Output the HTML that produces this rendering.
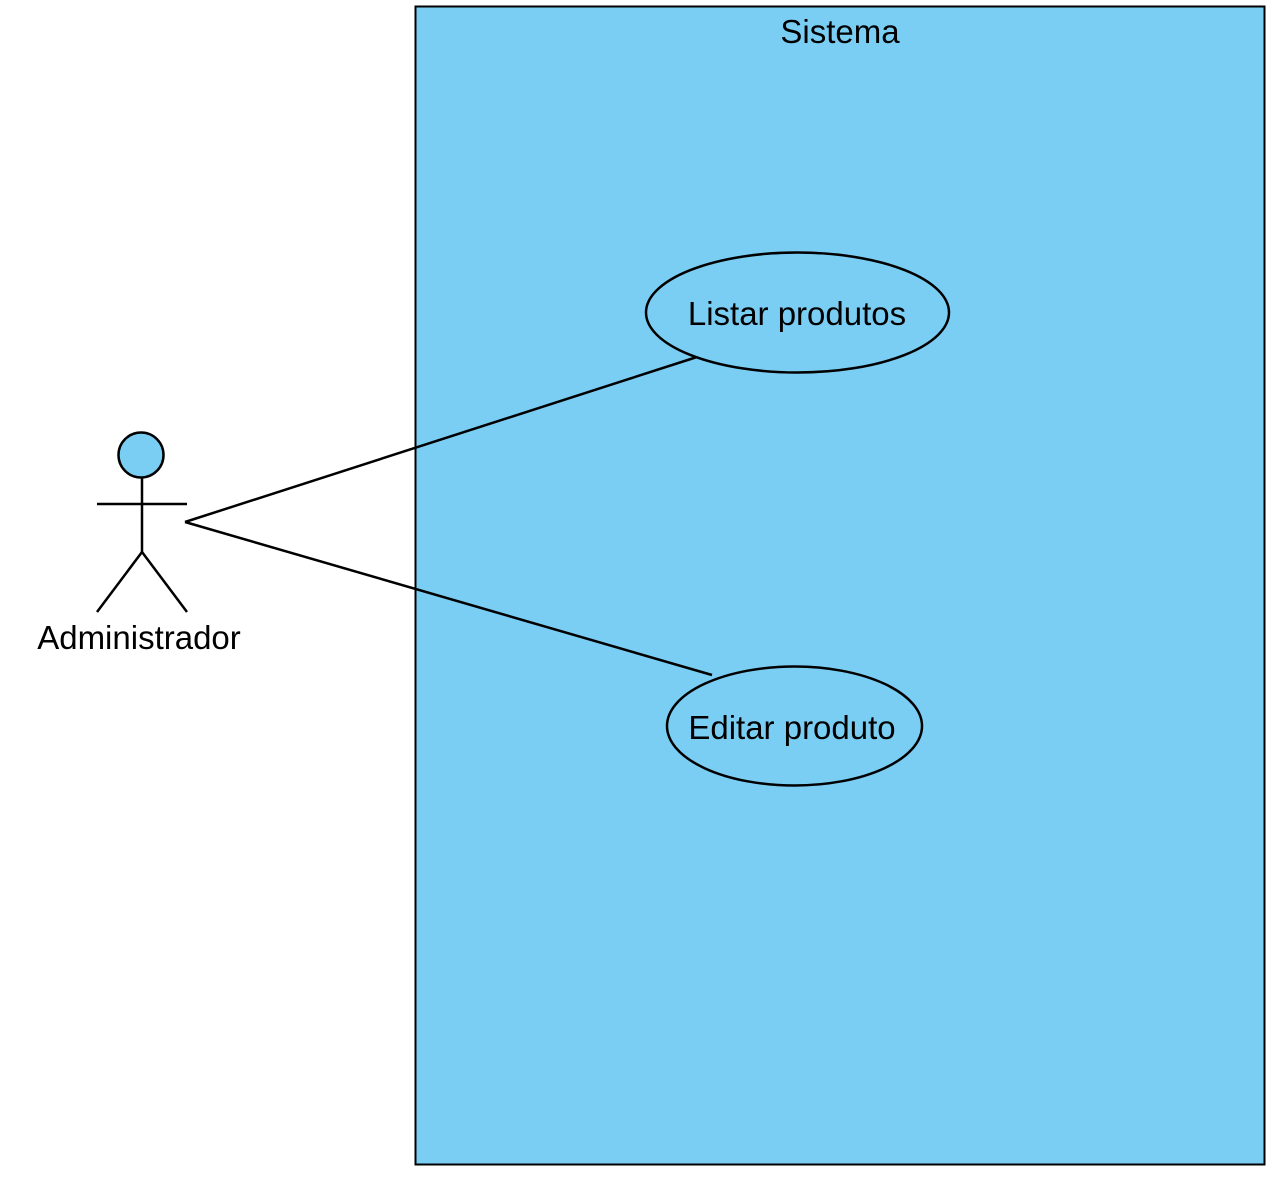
<!DOCTYPE html>
<html><head><style>body{margin:0;background:#fff}svg{display:block}</style></head>
<body>
<svg width="1278" height="1179" xmlns="http://www.w3.org/2000/svg" font-family="Liberation Sans, sans-serif">
<rect x="415.5" y="6.5" width="849" height="1158" fill="#7acef4" stroke="#000" stroke-width="2"/>
<text x="840" y="43" font-size="33" text-anchor="middle">Sistema</text>
<line x1="185" y1="522" x2="697" y2="357" stroke="#000" stroke-width="2.5"/>
<line x1="185" y1="522" x2="712" y2="675" stroke="#000" stroke-width="2.5"/>
<ellipse cx="797.5" cy="312.5" rx="151.5" ry="60" fill="#7acef4" stroke="#000" stroke-width="2.5"/>
<text x="797" y="325" font-size="33" text-anchor="middle">Listar produtos</text>
<ellipse cx="794.5" cy="726" rx="127.5" ry="59.5" fill="#7acef4" stroke="#000" stroke-width="2.5"/>
<text x="792" y="739" font-size="33" text-anchor="middle">Editar produto</text>
<circle cx="141" cy="455" r="22.5" fill="#7acef4" stroke="#000" stroke-width="2.5"/>
<line x1="142" y1="478" x2="142" y2="552" stroke="#000" stroke-width="2.5"/>
<line x1="97" y1="504" x2="187" y2="504" stroke="#000" stroke-width="2.5"/>
<line x1="142" y1="552" x2="97" y2="612" stroke="#000" stroke-width="2.5"/>
<line x1="142" y1="552" x2="187" y2="612" stroke="#000" stroke-width="2.5"/>
<text x="139" y="649" font-size="33" text-anchor="middle">Administrador</text>
</svg>
</body></html>
